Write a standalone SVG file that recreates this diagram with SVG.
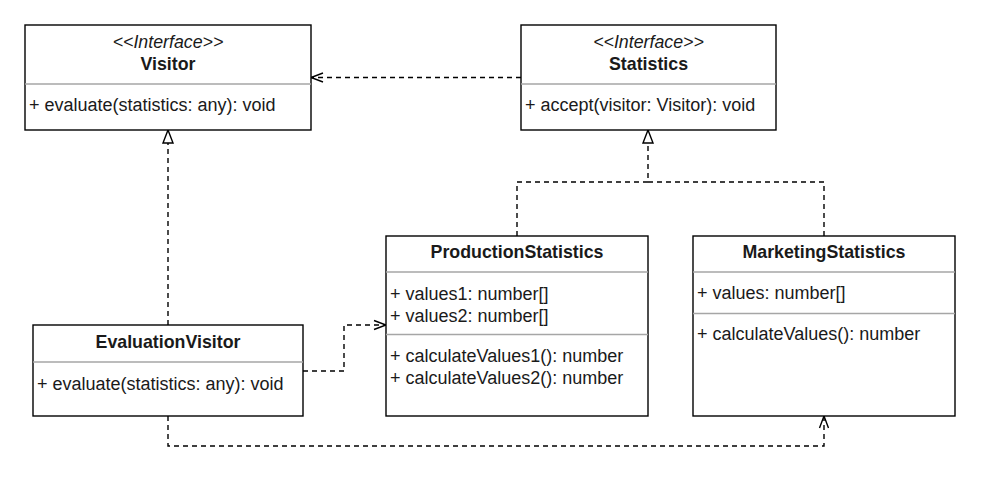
<svg xmlns="http://www.w3.org/2000/svg" width="994" height="486" viewBox="0 0 994 486">
<defs>
<style>
.box{fill:#fff;stroke:#000;stroke-width:1.4}
.div{stroke:#a6a6a6;stroke-width:1.4}
text{font-family:"Liberation Sans",Arial,Helvetica,sans-serif;font-size:18px;fill:#1a1a1a}
.c{text-anchor:middle}
.b{font-weight:bold;font-size:17.8px}
.i{font-style:italic;font-size:17.8px}
.edge{fill:none;stroke:#000;stroke-width:1.4;stroke-dasharray:5 4}
</style>
<marker id="open" markerUnits="userSpaceOnUse" markerWidth="16" markerHeight="14" refX="13" refY="6" orient="auto" overflow="visible">
<path d="M1,1.5 L13,6 L1,10.5" fill="none" stroke="#000" stroke-width="1.4" stroke-dasharray="none"/>
</marker>
<marker id="tri" markerUnits="userSpaceOnUse" markerWidth="16" markerHeight="14" refX="13" refY="6" orient="auto" overflow="visible">
<path d="M0,1 L13,6 L0,11 Z" fill="#fff" stroke="#000" stroke-width="1.4" stroke-dasharray="none"/>
</marker>
</defs>
<rect width="994" height="486" fill="#fff"/>
<g id="connectors">
<path class="edge" d="M521,77.5 L311,77.5" marker-end="url(#open)"/>
<path class="edge" d="M168,325 L168,130" marker-end="url(#tri)"/>
<path class="edge" d="M517,236 L517,182 L648,182 L648,130" marker-end="url(#tri)"/>
<path class="edge" d="M824,236 L824,182 L648,182"/>
<path class="edge" d="M303,371 L344,371 L344,325 L386,325" marker-end="url(#open)"/>
<path class="edge" d="M168,416 L168,446 L824,446 L824,416" marker-end="url(#open)"/>
</g>
<g id="Visitor">
<rect class="box" x="25" y="25" width="286" height="105"/>
<line class="div" x1="25" y1="84" x2="311" y2="84"/>
<text class="c i" x="168" y="48">&lt;&lt;Interface&gt;&gt;</text>
<text class="c b" x="168" y="70">Visitor</text>
<text x="29" y="111">+ evaluate(statistics: any): void</text>
</g>
<g id="Statistics">
<rect class="box" x="521" y="25" width="255" height="105"/>
<line class="div" x1="521" y1="84" x2="776" y2="84"/>
<text class="c i" x="648.5" y="48">&lt;&lt;Interface&gt;&gt;</text>
<text class="c b" x="648.5" y="70">Statistics</text>
<text x="525" y="111">+ accept(visitor: Visitor): void</text>
</g>
<g id="EvaluationVisitor">
<rect class="box" x="33" y="325" width="270" height="91"/>
<line class="div" x1="33" y1="362" x2="303" y2="362"/>
<text class="c b" x="168" y="348">EvaluationVisitor</text>
<text x="37" y="390">+ evaluate(statistics: any): void</text>
</g>
<g id="ProductionStatistics">
<rect class="box" x="386" y="236" width="262" height="180"/>
<line class="div" x1="386" y1="272" x2="648" y2="272"/>
<line class="div" x1="386" y1="334.5" x2="648" y2="334.5"/>
<text class="c b" x="517" y="257.5">ProductionStatistics</text>
<text x="390" y="299.5">+ values1: number[]</text>
<text x="390" y="321.5">+ values2: number[]</text>
<text x="390" y="361.5">+ calculateValues1(): number</text>
<text x="390" y="384">+ calculateValues2(): number</text>
</g>
<g id="MarketingStatistics">
<rect class="box" x="693" y="236" width="262" height="180"/>
<line class="div" x1="693" y1="272" x2="955" y2="272"/>
<line class="div" x1="693" y1="313.5" x2="955" y2="313.5"/>
<text class="c b" x="824" y="257.5">MarketingStatistics</text>
<text x="697" y="299">+ values: number[]</text>
<text x="697" y="340">+ calculateValues(): number</text>
</g>
</svg>
